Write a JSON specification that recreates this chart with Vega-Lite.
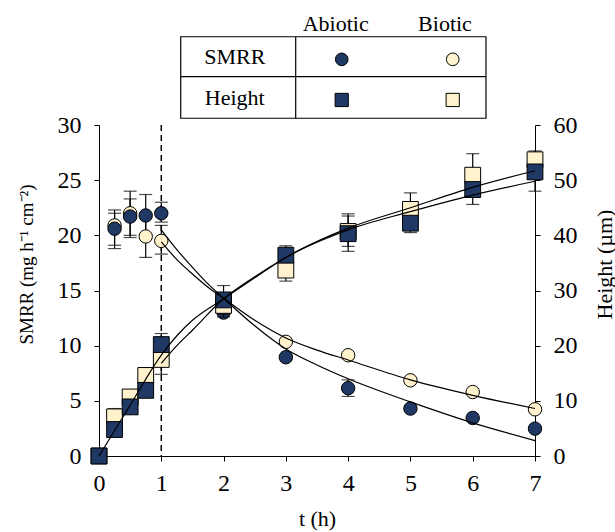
{
  "$schema": "https://vega.github.io/schema/vega-lite/v6.json",
  "width": 436,
  "height": 331,
  "autosize": {"type": "none"},
  "padding": {"left": 99, "top": 125, "right": 80, "bottom": 76},
  "background": "white",
  "config": {
    "view": {"stroke": null},
    "font": "Liberation Serif",
    "axis": {
      "domainColor": "black", "tickColor": "black", "labelColor": "black", "titleColor": "black",
      "labelFont": "Liberation Serif", "titleFont": "Liberation Serif",
      "labelFontSize": 24, "titleFontSize": 22, "titleFontWeight": "normal", "labelFlush": false,
      "grid": false, "tickSize": 5, "domainWidth": 1, "tickWidth": 1
    },
    "text": {"font": "Liberation Serif", "fontSize": 22, "color": "black"}
  },
  "datasets": {
    "obs": [
      {"t": 0.25, "series": "Biotic", "measure": "SMRR", "value": 20.9, "lo": 18.8, "hi": 22.0},
      {"t": 0.5, "series": "Biotic", "measure": "SMRR", "value": 22.0, "lo": 19.8, "hi": 24.0},
      {"t": 0.75, "series": "Biotic", "measure": "SMRR", "value": 19.9, "lo": 18.0, "hi": 21.8},
      {"t": 1, "series": "Biotic", "measure": "SMRR", "value": 19.5, "lo": 18.3, "hi": 20.9},
      {"t": 2, "series": "Biotic", "measure": "SMRR", "value": 13.6},
      {"t": 3, "series": "Biotic", "measure": "SMRR", "value": 10.35},
      {"t": 4, "series": "Biotic", "measure": "SMRR", "value": 9.13},
      {"t": 5, "series": "Biotic", "measure": "SMRR", "value": 6.86},
      {"t": 6, "series": "Biotic", "measure": "SMRR", "value": 5.8},
      {"t": 7, "series": "Biotic", "measure": "SMRR", "value": 4.23},
      {"t": 0, "series": "Biotic", "measure": "Height", "value": 0},
      {"t": 0.25, "series": "Biotic", "measure": "Height", "value": 7.1, "lo": 5.6, "hi": 8.6},
      {"t": 0.5, "series": "Biotic", "measure": "Height", "value": 10.7},
      {"t": 0.75, "series": "Biotic", "measure": "Height", "value": 14.6, "lo": 13.2, "hi": 16.0},
      {"t": 1, "series": "Biotic", "measure": "Height", "value": 17.5, "lo": 14.8, "hi": 20.2},
      {"t": 2, "series": "Biotic", "measure": "Height", "value": 27.3, "lo": 25.2, "hi": 29.4},
      {"t": 3, "series": "Biotic", "measure": "Height", "value": 33.7, "lo": 31.7, "hi": 35.7},
      {"t": 4, "series": "Biotic", "measure": "Height", "value": 40.7, "lo": 38.0, "hi": 43.9},
      {"t": 5, "series": "Biotic", "measure": "Height", "value": 44.7, "lo": 41.7, "hi": 47.7},
      {"t": 6, "series": "Biotic", "measure": "Height", "value": 50.9, "lo": 47.0, "hi": 54.8},
      {"t": 7, "series": "Biotic", "measure": "Height", "value": 53.7, "lo": 52.1, "hi": 55.3},
      {"t": 0.25, "series": "Abiotic", "measure": "SMRR", "value": 20.6, "lo": 19.1, "hi": 22.3},
      {"t": 0.5, "series": "Abiotic", "measure": "SMRR", "value": 21.7, "lo": 20.0, "hi": 23.3},
      {"t": 0.75, "series": "Abiotic", "measure": "SMRR", "value": 21.8, "lo": 20.0, "hi": 23.7},
      {"t": 1, "series": "Abiotic", "measure": "SMRR", "value": 22.0, "lo": 21.2, "hi": 23.0},
      {"t": 2, "series": "Abiotic", "measure": "SMRR", "value": 13.0},
      {"t": 3, "series": "Abiotic", "measure": "SMRR", "value": 8.95},
      {"t": 4, "series": "Abiotic", "measure": "SMRR", "value": 6.15, "lo": 5.4, "hi": 6.9},
      {"t": 5, "series": "Abiotic", "measure": "SMRR", "value": 4.3},
      {"t": 6, "series": "Abiotic", "measure": "SMRR", "value": 3.45},
      {"t": 7, "series": "Abiotic", "measure": "SMRR", "value": 2.48},
      {"t": 0, "series": "Abiotic", "measure": "Height", "value": 0},
      {"t": 0.25, "series": "Abiotic", "measure": "Height", "value": 4.8},
      {"t": 0.5, "series": "Abiotic", "measure": "Height", "value": 8.9},
      {"t": 0.75, "series": "Abiotic", "measure": "Height", "value": 11.9},
      {"t": 1, "series": "Abiotic", "measure": "Height", "value": 20.2, "lo": 18.2, "hi": 22.2},
      {"t": 2, "series": "Abiotic", "measure": "Height", "value": 28.3, "lo": 25.7, "hi": 30.9},
      {"t": 3, "series": "Abiotic", "measure": "Height", "value": 36.4, "lo": 34.7, "hi": 38.1},
      {"t": 4, "series": "Abiotic", "measure": "Height", "value": 40.3, "lo": 37.1, "hi": 43.5},
      {"t": 5, "series": "Abiotic", "measure": "Height", "value": 42.2, "lo": 40.5, "hi": 43.9},
      {"t": 6, "series": "Abiotic", "measure": "Height", "value": 48.3, "lo": 45.6, "hi": 51.0},
      {"t": 7, "series": "Abiotic", "measure": "Height", "value": 51.5, "lo": 48.0, "hi": 55.0}
    ],
    "fit": [
      {"t": 1, "series": "Abiotic", "measure": "SMRR", "fit": 20.5},
      {"t": 1.25, "series": "Abiotic", "measure": "SMRR", "fit": 18.7},
      {"t": 1.5, "series": "Abiotic", "measure": "SMRR", "fit": 17.1},
      {"t": 1.75, "series": "Abiotic", "measure": "SMRR", "fit": 15.6},
      {"t": 2, "series": "Abiotic", "measure": "SMRR", "fit": 14.3},
      {"t": 2.5, "series": "Abiotic", "measure": "SMRR", "fit": 11.8},
      {"t": 3, "series": "Abiotic", "measure": "SMRR", "fit": 9.7},
      {"t": 3.5, "series": "Abiotic", "measure": "SMRR", "fit": 8.25},
      {"t": 4, "series": "Abiotic", "measure": "SMRR", "fit": 7.0},
      {"t": 5, "series": "Abiotic", "measure": "SMRR", "fit": 4.9},
      {"t": 6, "series": "Abiotic", "measure": "SMRR", "fit": 3.0},
      {"t": 7, "series": "Abiotic", "measure": "SMRR", "fit": 1.4},
      {"t": 1, "series": "Biotic", "measure": "SMRR", "fit": 19.4},
      {"t": 1.25, "series": "Biotic", "measure": "SMRR", "fit": 17.8},
      {"t": 1.5, "series": "Biotic", "measure": "SMRR", "fit": 16.5},
      {"t": 1.75, "series": "Biotic", "measure": "SMRR", "fit": 15.3},
      {"t": 2, "series": "Biotic", "measure": "SMRR", "fit": 14.3},
      {"t": 2.5, "series": "Biotic", "measure": "SMRR", "fit": 12.3},
      {"t": 3, "series": "Biotic", "measure": "SMRR", "fit": 10.7},
      {"t": 3.5, "series": "Biotic", "measure": "SMRR", "fit": 9.6},
      {"t": 4, "series": "Biotic", "measure": "SMRR", "fit": 8.7},
      {"t": 5, "series": "Biotic", "measure": "SMRR", "fit": 6.9},
      {"t": 6, "series": "Biotic", "measure": "SMRR", "fit": 5.5},
      {"t": 7, "series": "Biotic", "measure": "SMRR", "fit": 4.3},
      {"t": 0, "series": "Abiotic", "measure": "Height", "fit": 0},
      {"t": 0.5, "series": "Abiotic", "measure": "Height", "fit": 9.2},
      {"t": 1, "series": "Abiotic", "measure": "Height", "fit": 18.3},
      {"t": 1.25, "series": "Abiotic", "measure": "Height", "fit": 21.8},
      {"t": 1.5, "series": "Abiotic", "measure": "Height", "fit": 24.6},
      {"t": 2, "series": "Abiotic", "measure": "Height", "fit": 28.5},
      {"t": 2.5, "series": "Abiotic", "measure": "Height", "fit": 32.3},
      {"t": 3, "series": "Abiotic", "measure": "Height", "fit": 36.0},
      {"t": 4, "series": "Abiotic", "measure": "Height", "fit": 41.0},
      {"t": 5, "series": "Abiotic", "measure": "Height", "fit": 44.3},
      {"t": 6, "series": "Abiotic", "measure": "Height", "fit": 47.3},
      {"t": 7, "series": "Abiotic", "measure": "Height", "fit": 49.8},
      {"t": 1, "series": "Biotic", "measure": "Height", "fit": 16.8},
      {"t": 1.25, "series": "Biotic", "measure": "Height", "fit": 20.0},
      {"t": 1.5, "series": "Biotic", "measure": "Height", "fit": 22.8},
      {"t": 2, "series": "Biotic", "measure": "Height", "fit": 28.5},
      {"t": 2.5, "series": "Biotic", "measure": "Height", "fit": 32.5},
      {"t": 3, "series": "Biotic", "measure": "Height", "fit": 36.0},
      {"t": 4, "series": "Biotic", "measure": "Height", "fit": 41.3},
      {"t": 5, "series": "Biotic", "measure": "Height", "fit": 45.0},
      {"t": 6, "series": "Biotic", "measure": "Height", "fit": 48.7},
      {"t": 7, "series": "Biotic", "measure": "Height", "fit": 51.7}
    ]
  },
  "layer": [
    {
      "layer": [
        {
          "data": {"values": [{"t": 1}]},
          "mark": {"type": "rule", "strokeDash": [6, 4], "color": "black", "strokeWidth": 1.5},
          "encoding": {
            "x": {"field": "t", "type": "quantitative", "scale": {"domain": [0, 7], "nice": false, "zero": false},
                  "axis": {"title": "t (h)", "values": [0, 1, 2, 3, 4, 5, 6, 7], "format": "d", "labelPadding": 10, "titlePadding": 13}}
          }
        },
        {
          "data": {"name": "obs"},
          "transform": [{"filter": "datum.measure == 'SMRR' && isValid(datum.lo)"}],
          "mark": {"type": "errorbar", "ticks": {"size": 13}, "color": "black", "thickness": 1.2},
          "encoding": {
            "x": {"field": "t", "type": "quantitative", "scale": {"domain": [0, 7], "nice": false, "zero": false},
                  "axis": {"title": "t (h)", "values": [0, 1, 2, 3, 4, 5, 6, 7], "format": "d", "labelPadding": 10, "titlePadding": 13}},
            "y": {"field": "lo", "type": "quantitative", "scale": {"domain": [0, 30], "nice": false},
                  "axis": {"orient": "left", "title": "SMRR (mg h⁻¹ cm⁻²)", "titleFontSize": 19, "values": [0, 5, 10, 15, 20, 25, 30], "labelPadding": 13, "titlePadding": 21, "titleY": 139}},
            "y2": {"field": "hi"}
          }
        },
        {
          "data": {"name": "obs"},
          "transform": [{"filter": "datum.measure == 'SMRR'"}],
          "mark": {"type": "point", "shape": "circle", "filled": true, "size": 180, "stroke": "black", "strokeWidth": 1, "opacity": 1},
          "encoding": {
            "x": {"field": "t", "type": "quantitative", "scale": {"domain": [0, 7], "nice": false, "zero": false},
                  "axis": {"title": "t (h)", "values": [0, 1, 2, 3, 4, 5, 6, 7], "format": "d", "labelPadding": 10, "titlePadding": 13}},
            "y": {"field": "value", "type": "quantitative", "scale": {"domain": [0, 30], "nice": false},
                  "axis": {"orient": "left", "title": "SMRR (mg h⁻¹ cm⁻²)", "titleFontSize": 19, "values": [0, 5, 10, 15, 20, 25, 30], "labelPadding": 13, "titlePadding": 21, "titleY": 139}},
            "fill": {"field": "series", "type": "nominal", "scale": {"domain": ["Abiotic", "Biotic"], "range": ["#1F3864", "#FFF2CC"]}, "legend": null}
          }
        }
      ]
    },
    {
      "layer": [
        {
          "data": {"name": "obs"},
          "transform": [{"filter": "datum.measure == 'Height' && isValid(datum.lo)"}],
          "mark": {"type": "errorbar", "ticks": {"size": 13}, "color": "black", "thickness": 1.2},
          "encoding": {
            "x": {"field": "t", "type": "quantitative", "scale": {"domain": [0, 7], "nice": false, "zero": false},
                  "axis": {"title": "t (h)", "values": [0, 1, 2, 3, 4, 5, 6, 7], "format": "d", "labelPadding": 10, "titlePadding": 13}},
            "y": {"field": "lo", "type": "quantitative", "scale": {"domain": [0, 60], "nice": false},
                  "axis": {"orient": "right", "title": "Height (µm)", "values": [0, 10, 20, 30, 40, 50, 60], "labelPadding": 13, "titlePadding": 17, "titleAngle": 270, "titleBaseline": "top", "titleY": 139}},
            "y2": {"field": "hi"}
          }
        },
        {
          "data": {"name": "obs"},
          "transform": [{"filter": "datum.measure == 'Height'"}],
          "mark": {"type": "point", "shape": "square", "filled": true, "size": 250, "stroke": "black", "strokeWidth": 1, "opacity": 1},
          "encoding": {
            "x": {"field": "t", "type": "quantitative", "scale": {"domain": [0, 7], "nice": false, "zero": false},
                  "axis": {"title": "t (h)", "values": [0, 1, 2, 3, 4, 5, 6, 7], "format": "d", "labelPadding": 10, "titlePadding": 13}},
            "y": {"field": "value", "type": "quantitative", "scale": {"domain": [0, 60], "nice": false},
                  "axis": {"orient": "right", "title": "Height (µm)", "values": [0, 10, 20, 30, 40, 50, 60], "labelPadding": 13, "titlePadding": 17, "titleAngle": 270, "titleBaseline": "top", "titleY": 139}},
            "fill": {"field": "series", "type": "nominal", "scale": {"domain": ["Abiotic", "Biotic"], "range": ["#1F3864", "#FFF2CC"]}, "legend": null}
          }
        },
        {
          "data": {"name": "fit"},
          "transform": [{"filter": "datum.measure == 'Height'"}],
          "mark": {"type": "line", "interpolate": "monotone", "color": "black", "strokeWidth": 1.2},
          "encoding": {
            "x": {"field": "t", "type": "quantitative", "scale": {"domain": [0, 7], "nice": false, "zero": false},
                  "axis": {"title": "t (h)", "values": [0, 1, 2, 3, 4, 5, 6, 7], "format": "d", "labelPadding": 10, "titlePadding": 13}},
            "y": {"field": "fit", "type": "quantitative", "scale": {"domain": [0, 60], "nice": false},
                  "axis": {"orient": "right", "title": "Height (µm)", "values": [0, 10, 20, 30, 40, 50, 60], "labelPadding": 13, "titlePadding": 17, "titleAngle": 270, "titleBaseline": "top", "titleY": 139}},
            "detail": {"field": "series", "type": "nominal"}
          }
        }
      ]
    },
    {
      "layer": [
        {
          "data": {"name": "fit"},
          "transform": [{"filter": "datum.measure == 'SMRR'"}],
          "mark": {"type": "line", "interpolate": "monotone", "color": "black", "strokeWidth": 1.2},
          "encoding": {
            "x": {"field": "t", "type": "quantitative", "scale": {"domain": [0, 7], "nice": false, "zero": false},
                  "axis": {"title": "t (h)", "values": [0, 1, 2, 3, 4, 5, 6, 7], "format": "d", "labelPadding": 10, "titlePadding": 13}},
            "y": {"field": "fit", "type": "quantitative", "scale": {"domain": [0, 30], "nice": false}, "axis": null},
            "detail": {"field": "series", "type": "nominal"}
          }
        },
        {
          "data": {"values": [{}]},
          "mark": {"type": "rect", "fill": "white", "stroke": "black", "strokeWidth": 1.2},
          "encoding": {
            "x": {"datum": 1.312, "type": "quantitative"}, "x2": {"datum": 6.213},
            "y": {"datum": 30.61, "type": "quantitative", "axis": null}, "y2": {"datum": 38.0}
          }
        },
        {
          "data": {"values": [{}]},
          "mark": {"type": "rule", "color": "black", "strokeWidth": 1.2},
          "encoding": {
            "x": {"datum": 1.312, "type": "quantitative"}, "x2": {"datum": 6.213},
            "y": {"datum": 34.38, "type": "quantitative", "axis": null}
          }
        },
        {
          "data": {"values": [{}]},
          "mark": {"type": "rule", "color": "black", "strokeWidth": 1.2},
          "encoding": {
            "x": {"datum": 3.158, "type": "quantitative"},
            "y": {"datum": 30.61, "type": "quantitative", "axis": null}, "y2": {"datum": 38.0}
          }
        },
        {
          "data": {"values": [{"label": "SMRR"}]},
          "mark": {"type": "text", "align": "center", "baseline": "middle", "fontSize": 22},
          "encoding": {"x": {"datum": 2.18, "type": "quantitative"}, "y": {"datum": 36.16, "type": "quantitative", "axis": null}, "text": {"field": "label"}}
        },
        {
          "data": {"values": [{"label": "Height"}]},
          "mark": {"type": "text", "align": "center", "baseline": "middle", "fontSize": 22},
          "encoding": {"x": {"datum": 2.18, "type": "quantitative"}, "y": {"datum": 32.49, "type": "quantitative", "axis": null}, "text": {"field": "label"}}
        },
        {
          "data": {"values": [{"label": "Abiotic"}]},
          "mark": {"type": "text", "align": "center", "baseline": "middle", "fontSize": 22},
          "encoding": {"x": {"datum": 3.8, "type": "quantitative"}, "y": {"datum": 39.15, "type": "quantitative", "axis": null}, "text": {"field": "label"}}
        },
        {
          "data": {"values": [{"label": "Biotic"}]},
          "mark": {"type": "text", "align": "center", "baseline": "middle", "fontSize": 22},
          "encoding": {"x": {"datum": 5.555, "type": "quantitative"}, "y": {"datum": 39.15, "type": "quantitative", "axis": null}, "text": {"field": "label"}}
        },
        {
          "data": {"values": [{"series": "Abiotic"}]},
          "mark": {"type": "point", "shape": "circle", "filled": true, "size": 160, "stroke": "black", "strokeWidth": 1, "opacity": 1},
          "encoding": {"x": {"datum": 3.897, "type": "quantitative"}, "y": {"datum": 35.95, "type": "quantitative", "axis": null},
                       "fill": {"field": "series", "type": "nominal", "scale": {"domain": ["Abiotic", "Biotic"], "range": ["#1F3864", "#FFF2CC"]}, "legend": null}}
        },
        {
          "data": {"values": [{"series": "Biotic"}]},
          "mark": {"type": "point", "shape": "circle", "filled": true, "size": 160, "stroke": "black", "strokeWidth": 1, "opacity": 1},
          "encoding": {"x": {"datum": 5.679, "type": "quantitative"}, "y": {"datum": 35.95, "type": "quantitative", "axis": null},
                       "fill": {"field": "series", "type": "nominal", "scale": {"domain": ["Abiotic", "Biotic"], "range": ["#1F3864", "#FFF2CC"]}, "legend": null}}
        },
        {
          "data": {"values": [{"series": "Abiotic"}]},
          "mark": {"type": "point", "shape": "square", "filled": true, "size": 175, "stroke": "black", "strokeWidth": 1, "opacity": 1},
          "encoding": {"x": {"datum": 3.897, "type": "quantitative"}, "y": {"datum": 32.27, "type": "quantitative", "axis": null},
                       "fill": {"field": "series", "type": "nominal", "scale": {"domain": ["Abiotic", "Biotic"], "range": ["#1F3864", "#FFF2CC"]}, "legend": null}}
        },
        {
          "data": {"values": [{"series": "Biotic"}]},
          "mark": {"type": "point", "shape": "square", "filled": true, "size": 175, "stroke": "black", "strokeWidth": 1, "opacity": 1},
          "encoding": {"x": {"datum": 5.679, "type": "quantitative"}, "y": {"datum": 32.27, "type": "quantitative", "axis": null},
                       "fill": {"field": "series", "type": "nominal", "scale": {"domain": ["Abiotic", "Biotic"], "range": ["#1F3864", "#FFF2CC"]}, "legend": null}}
        }
      ]
    }
  ],
  "resolve": {"scale": {"y": "independent"}}
}
